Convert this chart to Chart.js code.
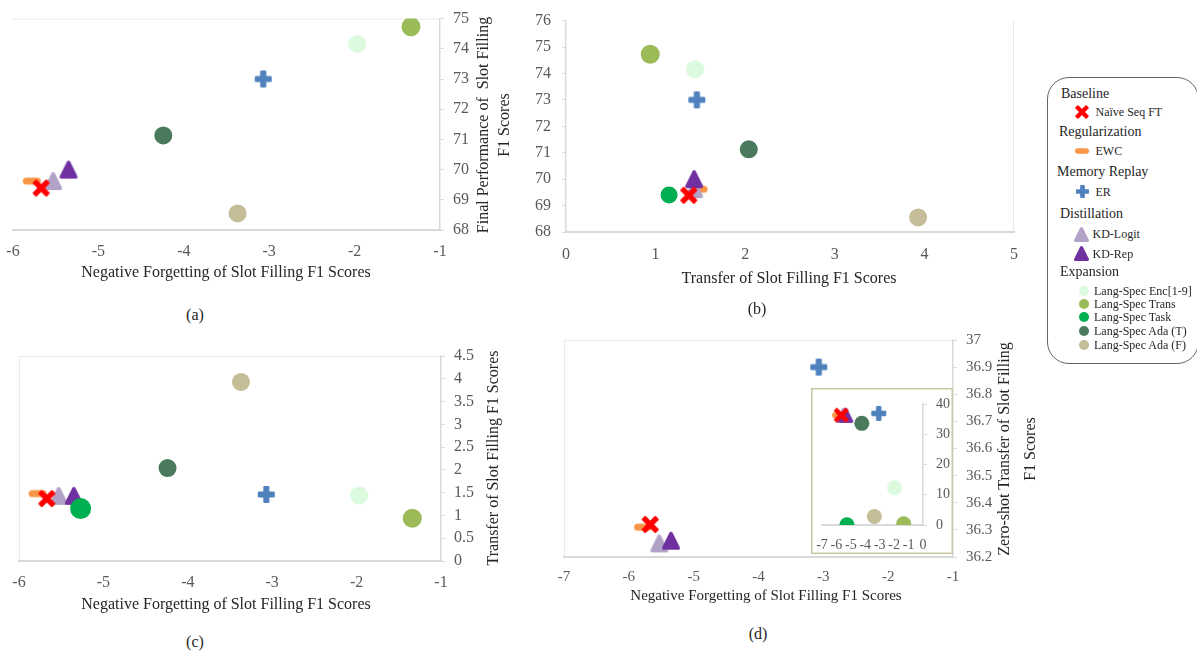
<!DOCTYPE html>
<html>
<head>
<meta charset="utf-8">
<script src="https://cdn.jsdelivr.net/npm/chart.js@4/dist/chart.umd.min.js"></script>
<style>
  html, body { margin: 0; padding: 0; background: #fff; }
  #page { position: relative; width: 1197px; height: 652px; overflow: hidden;
          font-family: "Liberation Serif", "Times New Roman", serif; }
  #page canvas { position: absolute; }
  .t { position: absolute; white-space: pre; color: #262626; line-height: 1;
       transform: translate(-50%, -50%); }
  .v { transform: translate(-50%, -50%) rotate(-90deg); }
  .lg { position: absolute; white-space: pre; color: #262626; line-height: 1;
        transform: translateY(-50%); }
  #legendBox { position: absolute; left: 1047px; top: 77px; width: 152px; height: 287px;
               border: 1px solid #666; border-radius: 22px; box-sizing: border-box; }
</style>
</head>
<body>
<div id="page"><div id="legendBox"></div></div>
<script>
// ---- data ----
const seriesNames = ['Naïve Seq FT', 'EWC', 'ER', 'KD-Logit', 'KD-Rep',
  'Lang-Spec Enc[1-9]', 'Lang-Spec Trans', 'Lang-Spec Task', 'Lang-Spec Ada (T)', 'Lang-Spec Ada (F)'];
const negForgetting = [-5.67, -5.78, -3.07, -5.53, -5.35, -1.97, -1.34, -5.27, -4.24, -3.37];
const finalPerf     = [69.39, 69.62, 73.00, 69.62, 70.00, 74.16, 74.73, 69.40, 71.13, 68.55];
const transfer      = [1.37, 1.48, 1.46, 1.43, 1.43, 1.44, 0.94, 1.15, 2.04, 3.93];
const zeroShot      = [36.32, 36.31, 36.90, 36.25, 36.26, 12.3, 0.4, 0.1, 33.6, 2.8];
const legendGroups  = [
  ['Baseline', [0]], ['Regularization', [1]], ['Memory Replay', [2]],
  ['Distillation', [3, 4]], ['Expansion', [5, 6, 7, 8, 9]]
];

// ---- styling ----
const FONT = '"Liberation Serif", "Times New Roman", serif';
const TICK_COLOR = '#595959';
const AXIS_COLOR = '#d9d9d9';
const FRAME_COLOR = '#ebebeb';
const colors = ['#ff0000', '#f79646', '#4f81bd', '#b3a2c7', '#7030a0',
  '#dcfbde', '#9bbb59', '#00b050', '#4a7a5b', '#c4bd97'];
const shapes = ['x', 'dash', 'plus', 'tri', 'tri', 'circle', 'circle', 'circle', 'circle', 'circle'];
// draw order: first entry ends up on top
const drawOrder = [0, 7, 4, 3, 1, 2, 8, 9, 5, 6];

Chart.defaults.font.family = FONT;

function markerCanvas(kind, color, s) {
  const c = document.createElement('canvas');
  const n = Math.ceil(s + 6);
  c.width = n; c.height = n;
  const g = c.getContext('2d');
  g.translate(n / 2, n / 2);
  g.fillStyle = color; g.strokeStyle = color;
  if (kind === 'x' || kind === 'plus') {
    const t = s * 0.36;
    let half = s / 2;
    if (kind === 'x') { g.rotate(Math.PI / 4); half = s * 0.66; }
    g.beginPath(); g.roundRect(-half, -t / 2, 2 * half, t, t * 0.2); g.fill();
    g.beginPath(); g.roundRect(-t / 2, -half, t, 2 * half, t * 0.2); g.fill();
  } else if (kind === 'dash') {
    const h = s * 0.4;
    g.beginPath(); g.roundRect(-s / 2, -h / 2, s, h, h / 2); g.fill();
  } else if (kind === 'tri') {
    const r = s * 0.1;
    g.lineJoin = 'round'; g.lineWidth = 2 * r;
    g.beginPath();
    g.moveTo(0, -s / 2 + r);
    g.lineTo(s / 2 - r, s / 2 - r);
    g.lineTo(-s / 2 + r, s / 2 - r);
    g.closePath(); g.fill(); g.stroke();
  } else {
    g.beginPath(); g.arc(0, 0, s / 2, 0, Math.PI * 2); g.fill();
  }
  return c;
}

function buildDatasets(xs, ys, include, sizes) {
  return drawOrder.filter(i => include(i)).map(i => {
    const circle = shapes[i] === 'circle';
    const size = sizes[i];
    return {
      label: seriesNames[i],
      data: [{ x: xs[i], y: ys[i] }],
      pointStyle: circle ? 'circle' : markerCanvas(shapes[i], colors[i], size),
      pointRadius: circle ? size / 2 : 8,
      backgroundColor: colors[i],
      borderWidth: 0,
      showLine: false
    };
  });
}

// faint plot-area edges, and an optional framed white box (used by the inset)
const framePlugin = {
  id: 'frame',
  beforeDraw(chart, args, opts) {
    const { ctx, chartArea: a } = chart;
    if (opts.box) {
      const b = opts.box;
      ctx.save(); ctx.fillStyle = '#fff';
      ctx.fillRect(b.x, b.y, b.w, b.h); ctx.restore();
    }
    ctx.save();
    ctx.strokeStyle = FRAME_COLOR; ctx.lineWidth = 1;
    (opts.edges || []).forEach(e => {
      ctx.beginPath();
      if (e === 'top') { ctx.moveTo(a.left, a.top + 0.5); ctx.lineTo(a.right, a.top + 0.5); }
      if (e === 'left') { ctx.moveTo(a.left + 0.5, a.top); ctx.lineTo(a.left + 0.5, a.bottom); }
      if (e === 'right') { ctx.moveTo(a.right - 0.5, a.top); ctx.lineTo(a.right - 0.5, a.bottom); }
      ctx.stroke();
    });
    ctx.restore();
  },
  afterDraw(chart, args, opts) {
    if (!opts.box) return;
    const b = opts.box, ctx = chart.ctx;
    ctx.save(); ctx.strokeStyle = opts.boxColor; ctx.lineWidth = 1.5;
    ctx.strokeRect(b.x + 0.75, b.y + 0.75, b.w - 1.5, b.h - 1.5);
    ctx.restore();
  }
};

const fmt = v => String(Number(v.toFixed(2)));

function makeChart(p) {
  const page = document.getElementById('page');
  const cv = document.createElement('canvas');
  const right = p.yPos === 'right';
  const cl = right ? p.L - p.padL : p.L - p.yW - p.padL;
  const cw = p.padL + p.yW + (p.R - p.L) + p.padR;
  const ct = p.T - p.padT;
  const ch = p.padT + (p.B - p.T) + p.xH;
  cv.width = cw; cv.height = ch;
  cv.style.left = cl + 'px'; cv.style.top = ct + 'px';
  cv.style.width = cw + 'px'; cv.style.height = ch + 'px';
  page.appendChild(cv);
  const box = p.box ? { x: p.box[0] - cl, y: p.box[1] - ct, w: p.box[2], h: p.box[3] } : null;
  const tickFont = { family: FONT, size: p.font };
  return new Chart(cv, {
    type: 'scatter',
    data: { datasets: p.datasets },
    plugins: [framePlugin],
    options: {
      responsive: false, animation: false, devicePixelRatio: 1, events: [],
      layout: { padding: { left: p.padL, right: p.padR, top: p.padT, bottom: 0 } },
      plugins: { legend: { display: false }, tooltip: { enabled: false },
                 frame: { edges: p.edges, box: box, boxColor: p.boxColor } },
      scales: {
        x: {
          type: 'linear', position: 'bottom', min: p.x[0], max: p.x[1],
          afterFit: s => { s.height = p.xH; },
          ticks: { stepSize: p.x[2], color: TICK_COLOR, font: tickFont, padding: p.xPad,
                   autoSkip: false, maxRotation: 0, callback: fmt },
          grid: { display: false },
          border: { display: true, color: AXIS_COLOR, width: 2 }
        },
        y: {
          type: 'linear', position: p.yPos, min: p.y[0], max: p.y[1],
          afterFit: s => { s.width = p.yW; },
          ticks: { stepSize: p.y[2], color: TICK_COLOR, font: tickFont, padding: p.yPad,
                   autoSkip: false, callback: fmt },
          grid: { display: true, drawOnChartArea: false, drawTicks: true, tickLength: 4,
                  color: AXIS_COLOR, lineWidth: 1 },
          border: { display: true, color: AXIS_COLOR, width: 1.5 }
        }
      }
    }
  });
}

const mainSizes = [15, 18, 17, 18, 18, 18, 19, 17, 18, 18];

// (a) final performance vs negative forgetting
makeChart({
  L: 13, R: 440, T: 18, B: 230, yPos: 'right', yW: 40, xH: 40, padL: 13, padR: 0, padT: 18,
  x: [-6, -1, 1], y: [68, 75, 1], font: 16, xPad: 4, yPad: 9, edges: ['top'],
  datasets: buildDatasets(negForgetting, finalPerf, i => i !== 7, mainSizes)
});

// (b) final performance vs transfer
makeChart({
  L: 566, R: 1014, T: 15, B: 232, yPos: 'left', yW: 45, xH: 40, padL: 5, padR: 20, padT: 15,
  x: [0, 5, 1], y: [68, 76, 1], font: 16, xPad: 5, yPad: 11, edges: ['right'],
  datasets: buildDatasets(transfer, finalPerf, i => true, mainSizes)
});

// (c) transfer vs negative forgetting
const sizesC = mainSizes.slice(); sizesC[7] = 21;
makeChart({
  L: 19, R: 441, T: 356, B: 561, yPos: 'right', yW: 40, xH: 40, padL: 19, padR: 0, padT: 24,
  x: [-6, -1, 1], y: [0, 4.5, 0.5], font: 16, xPad: 4, yPad: 9, edges: ['top', 'left'],
  datasets: buildDatasets(negForgetting, transfer, i => true, sizesC)
});

// (d) zero-shot transfer vs negative forgetting (zoomed range)
const dMin = 36.2, dMax = 37;
makeChart({
  L: 564, R: 953, T: 340, B: 557, yPos: 'right', yW: 48, xH: 40, padL: 22, padR: 0, padT: 24,
  x: [-7, -1, 1], y: [dMin, dMax, 0.1], font: 15, xPad: 3, yPad: 9, edges: ['top', 'left'],
  datasets: buildDatasets(negForgetting, zeroShot,
    i => zeroShot[i] >= dMin && zeroShot[i] <= dMax, mainSizes)
});

// (d) inset: full range of zero-shot transfer, in a framed box
const insetSizes = [13, 15, 15, 15, 15, 15, 15, 15, 15, 15];
makeChart({
  L: 822, R: 923, T: 404, B: 525, yPos: 'right', yW: 30, xH: 29, padL: 20, padR: 0, padT: 22,
  x: [-7, 0, 1], y: [0, 40, 10], font: 14, xPad: 4, yPad: 9, edges: [],
  box: [811, 388, 142, 166], boxColor: '#cbc7a4',
  datasets: buildDatasets(negForgetting, zeroShot, i => true, insetSizes)
});

// ---- text ----
const page = document.getElementById('page');
function text(str, x, y, size, vertical, cls) {
  const d = document.createElement('div');
  d.className = (cls || 't') + (vertical ? ' v' : '');
  d.textContent = str;
  d.style.left = x + 'px'; d.style.top = y + 'px';
  d.style.fontSize = size + 'px';
  page.appendChild(d);
  return d;
}
const xTitleNF = 'Negative Forgetting of Slot Filling F1 Scores';
const titleTransfer = 'Transfer of Slot Filling F1 Scores';
text(xTitleNF, 226, 272, 16);
text('Final Performance of  Slot Filling', 482.5, 125, 16, true);
text('F1 Scores', 504, 125, 16, true);
text(titleTransfer, 789, 278, 16);
text(xTitleNF, 226, 604, 16);
text(titleTransfer, 493, 458, 16, true);
text(xTitleNF, 766, 595, 15);
text('Zero-shot Transfer of Slot Filling', 1004, 449, 16, true);
text('F1 Scores', 1030, 449, 16, true);
text('(a)', 195, 315, 16);
text('(b)', 757, 309, 16);
text('(c)', 195, 642, 16);
text('(d)', 758, 634, 16);

// ---- grouped legend ----
const headerPos = [[1061, 94], [1059, 132], [1057, 172], [1060, 214], [1060, 272]];
const itemY = { 0: 112, 1: 151, 2: 191.5, 3: 234, 4: 253.5, 5: 290.5, 6: 303.5, 7: 317, 8: 331, 9: 345 };
const legendMarkerSize = [12, 14, 13, 15, 15, 10, 10, 10, 10, 10];
legendGroups.forEach(([name, members], gi) => {
  text(name, headerPos[gi][0], headerPos[gi][1], 14, false, 'lg');
  members.forEach(i => {
    const circle = shapes[i] === 'circle';
    const mx = circle ? 1084 : (shapes[i] === 'tri' ? 1081 : 1082);
    const tx = circle ? 1094 : (shapes[i] === 'tri' ? 1092.5 : 1095.5);
    const m = markerCanvas(shapes[i], colors[i], legendMarkerSize[i]);
    m.style.left = (mx - m.width / 2) + 'px';
    m.style.top = (itemY[i] - m.height / 2) + 'px';
    page.appendChild(m);
    text(seriesNames[i], tx, itemY[i], 12, false, 'lg');
  });
});
</script>
</body>
</html>
